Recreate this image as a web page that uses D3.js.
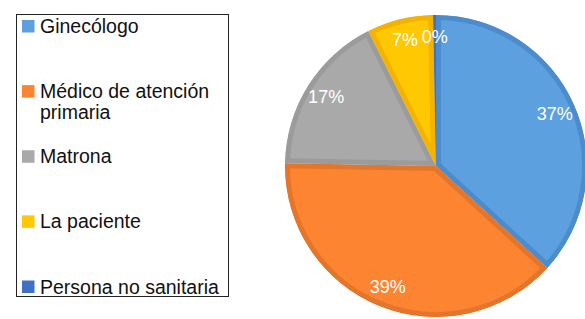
<!DOCTYPE html>
<html>
<head>
<meta charset="utf-8">
<script src="https://cdn.jsdelivr.net/npm/d3@7"></script>
<style>
  body { margin: 0; background: #fff; }
  svg { display: block; font-family: "Liberation Sans", Arial, Helvetica, sans-serif; }
</style>
</head>
<body>
<svg id="chart"></svg>
<script>
// slice data, clockwise from 12 o'clock
const categories = ["Ginecólogo", "Médico de atención primaria", "Matrona", "La paciente", "Persona no sanitaria"];
const legendLines = [["Ginecólogo"], ["Médico de atención", "primaria"], ["Matrona"], ["La paciente"], ["Persona no sanitaria"]];
const values = [36.8, 38.5, 17.3, 7.1, 0.3];
const fills = ["#5ca0df", "#fd8430", "#a9a9a9", "#ffc800", "#3f70c8"];
const borders = ["#4d8ccc", "#e4762b", "#9b9b9b", "#f3b300", "#3f70c8"];

const width = 585;
const height = 319;
const cx = 436;
const cy = 166;
const radius = 151;

const chart = d3.select("#chart")
  .attr("width", width)
  .attr("height", height)
  .attr("viewBox", `0 0 ${width} ${height}`);

const total = d3.sum(values);
const pie = d3.pie().sort(null).value((d) => d);
const arcs = pie(values);
const arc = d3.arc().innerRadius(0).outerRadius(radius);
const labelArc = d3.arc().innerRadius(0).outerRadius(radius * 1.72);

const defs = chart.append("defs");
defs.selectAll("clipPath")
  .data(arcs)
  .enter()
  .append("clipPath")
  .attr("id", (d, i) => `clip-${i}`)
  .append("path")
  .attr("d", arc);

const pieG = chart.append("g").attr("transform", `translate(${cx},${cy})`);

// each slice gets an inset darker border via clipped stroke
pieG.selectAll("path.slice")
  .data(arcs)
  .enter()
  .append("path")
  .attr("class", "slice")
  .attr("d", arc)
  .attr("fill", (d, i) => fills[i])
  .attr("stroke", (d, i) => borders[i])
  .attr("stroke-width", 10)
  .attr("stroke-linejoin", "miter")
  .attr("clip-path", (d, i) => `url(#clip-${i})`);

pieG.selectAll("text.pct")
  .data(arcs)
  .enter()
  .append("text")
  .attr("class", "pct")
  .attr("transform", (d) => {
    const [x, y] = labelArc.centroid(d);
    return `translate(${x},${y})`;
  })
  .attr("text-anchor", "middle")
  .attr("dy", "0.36em")
  .attr("fill", "#fff")
  .attr("font-size", 18)
  .text((d) => `${Math.round((d.value / total) * 100)}%`);

// legend
const legend = chart.append("g");
legend.append("rect")
  .attr("x", 16.5)
  .attr("y", 14.5)
  .attr("width", 212)
  .attr("height", 282)
  .attr("fill", "#fff")
  .attr("stroke", "#222")
  .attr("stroke-width", 1);

const legendY = d3.scalePoint()
  .domain(categories)
  .range([26.5, 287]);

const items = legend.selectAll("g.item")
  .data(categories)
  .enter()
  .append("g")
  .attr("class", "item")
  .attr("transform", (d) => `translate(0,${legendY(d)})`);

items.append("rect")
  .attr("x", 22)
  .attr("y", -6.5)
  .attr("width", 12.5)
  .attr("height", 12.5)
  .attr("fill", (d, i) => fills[i]);

items.append("text")
  .attr("x", 40)
  .attr("y", 6.5)
  .attr("font-size", 19.5)
  .attr("fill", "#111")
  .selectAll("tspan")
  .data((d, i) => legendLines[i])
  .enter()
  .append("tspan")
  .attr("x", 40)
  .attr("dy", (d, j) => (j === 0 ? 0 : 21))
  .text((d) => d);
</script>
</body>
</html>
